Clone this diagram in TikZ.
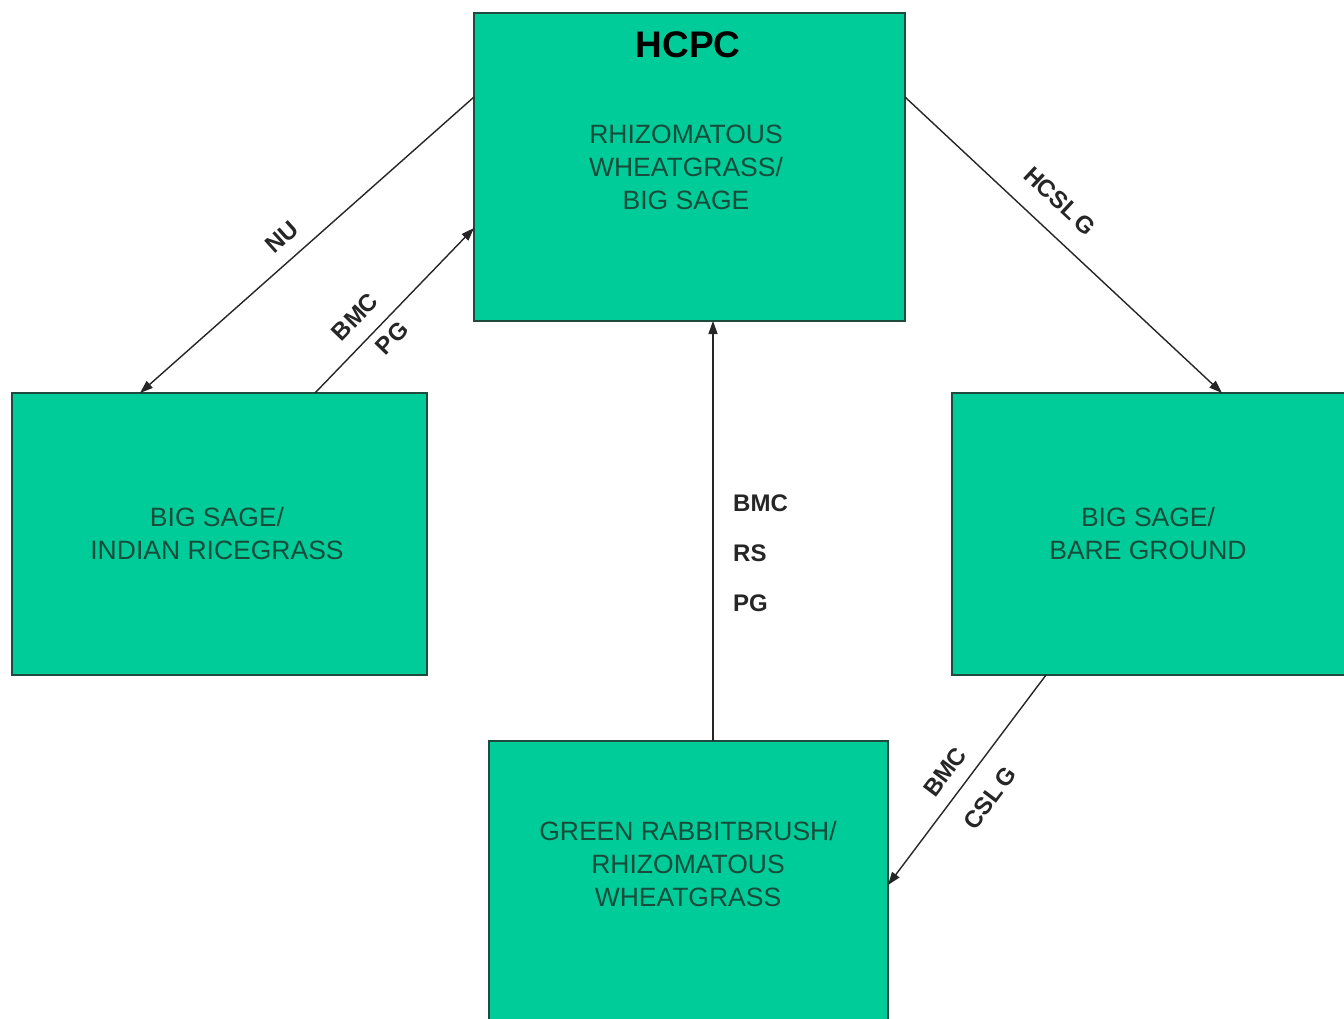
\documentclass[tikz,border=0pt]{standalone}
\usepackage{fontspec}
\setmainfont{Liberation Sans}
\usetikzlibrary{arrows.meta,calc}
\definecolor{boxfill}{RGB}{0,204,153}
\definecolor{boxline}{RGB}{30,75,62}
\definecolor{boxtext}{RGB}{22,76,60}
\tikzset{
  statebox/.style={draw=boxline, fill=boxfill, line width=2.2pt, rectangle, inner sep=0pt, outer sep=0pt},
  statetext/.style={text=boxtext, align=center, font=\fontsize{26.5}{33}\selectfont},
  conn/.style={draw=black!85, line width=1.4pt, -{Triangle[length=13pt,width=9pt]}},
  lbl/.style={font=\bfseries\fontsize{24}{28}\selectfont, text=black!85, inner sep=0pt},
}
\begin{document}
\begin{tikzpicture}[x=1pt,y=-1pt]
\useasboundingbox (0,0) rectangle (1344,1018);
\clip (0,0) rectangle (1344,1018);
\fill[white] (0,0) rectangle (1344,1018);

% boxes
\node[statebox, minimum width=431pt, minimum height=308pt] (top) at (689.5,167) {};
\node[statebox, minimum width=415pt, minimum height=282pt] (left) at (219.5,534) {};
\node[statebox, minimum width=420pt, minimum height=282pt] (right) at (1162,534) {};
\node[statebox, minimum width=399pt, minimum height=300pt] (bottom) at (688.5,891) {};

% box texts
\node[font=\bfseries\fontsize{37}{40}\selectfont, inner sep=0pt] (hcpc) at (688,45) {HCPC};
\node[statetext] (toptext) at (686,167) {RHIZOMATOUS\\WHEATGRASS/\\BIG SAGE};
\node[statetext] (lefttext) at (217,534) {BIG SAGE/\\INDIAN RICEGRASS};
\node[statetext] (righttext) at (1148,534) {BIG SAGE/\\BARE GROUND};
\node[statetext] (bottomtext) at (688,864) {GREEN RABBITBRUSH/\\RHIZOMATOUS\\WHEATGRASS};

% connector end points
\coordinate (nuS) at ([yshift=-84pt]top.north west);
\coordinate (nuE) at ([xshift=128pt]left.north west);
\coordinate (bpS) at ([xshift=303pt]left.north west);
\coordinate (bpE) at ([yshift=-215pt]top.north west);
\coordinate (hcS) at ([yshift=-84pt]top.north east);
\coordinate (hcE) at ([xshift=270pt]right.north west);
\coordinate (vS) at ([xshift=24.5pt]bottom.north);
\coordinate (vE) at (top.south -| vS);
\coordinate (bcS) at ([xshift=94pt]right.south west);
\coordinate (bcE) at ([yshift=-144pt]bottom.north east);

% connectors
\draw[conn] (nuS) -- (nuE);
\draw[conn] (bpS) -- (bpE);
\draw[conn] (hcS) -- (hcE);
\draw[conn] (vS) -- (vE);
\draw[conn] (bcS) -- (bcE);

% labels
\node[lbl, rotate=42] (lnu) at (282,237) {NU};
\node[lbl, rotate=46] (lbmc1) at (355,317) {BMC};
\node[lbl, rotate=46] (lpg1) at (392,338) {PG};
\node[lbl, rotate=-43] (lhc) at (1060,201) {HCSL\,G};
\node[lbl, anchor=west] (lbmc2) at (733,503) {BMC};
\node[lbl, anchor=west] (lrs) at (733,553) {RS};
\node[lbl, anchor=west] (lpg2) at (733,603) {PG};
\node[lbl, rotate=53] (lbmc3) at (945,772) {BMC};
\node[lbl, rotate=53] (lcslg) at (990,798) {CSL\,G};
\end{tikzpicture}
\end{document}
